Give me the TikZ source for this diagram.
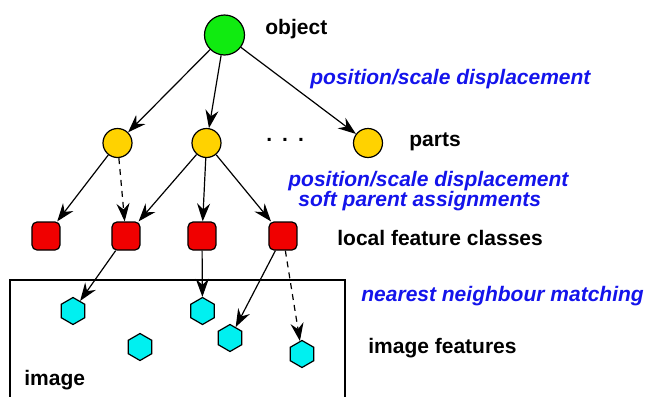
\documentclass[tikz,border=0pt]{standalone}
\usepackage{fontspec}
\setmainfont{Liberation Sans}
\usetikzlibrary{arrows.meta}
\usetikzlibrary{shapes.geometric}

\definecolor{objverde}{RGB}{16,235,16}
\definecolor{partoro}{RGB}{255,210,0}
\definecolor{clsrojo}{RGB}{240,0,0}
\definecolor{featcian}{RGB}{0,240,240}
\definecolor{txtazul}{RGB}{20,20,235}

\begin{document}
\begin{tikzpicture}[x=0.5pt, y=-0.5pt,
    flecha/.style={-{Stealth[length=9pt, width=6.5pt, inset=3pt]}, line width=0.6pt},
    discont/.style={flecha, dash pattern=on 3pt off 2.5pt},
    objnodo/.style={circle, draw, line width=0.6pt, fill=objverde, minimum size=20pt, inner sep=0pt},
    partnodo/.style={circle, draw, line width=0.6pt, fill=partoro, minimum size=14.5pt, inner sep=0pt},
    clsnodo/.style={rectangle, rounded corners=2.5pt, draw, line width=0.6pt, fill=clsrojo, minimum size=14pt, inner sep=0pt},
    featnodo/.style={regular polygon, regular polygon sides=6, shape border rotate=30, draw, line width=0.6pt, fill=featcian, minimum size=13.5pt, inner sep=0pt},
    etiq/.style={anchor=west, inner sep=0pt, font=\fontsize{10.5}{12}\selectfont\bfseries},
    azul/.style={etiq, text=txtazul, font=\fontsize{10.5}{12}\selectfont\bfseries\itshape}]

    \useasboundingbox (0,0) rectangle (645,397);

    % Imagen
    \draw[line width=0.6pt] (10,400) -- (10,280) -- (345,280) -- (345,400);

    % Objeto y partes
    \node[objnodo] (obj) at (224.5,35) {};
    \node[partnodo] (p1) at (117.5,143) {};
    \node[partnodo] (p2) at (206.5,143) {};
    \node[partnodo] (p3) at (368,143) {};

    % Clases de rasgos locales
    \node[clsnodo] (c1) at (46,236) {};
    \node[clsnodo] (c2) at (126,236) {};
    \node[clsnodo] (c3) at (202,236) {};
    \node[clsnodo] (c4) at (283,236) {};

    % Rasgos de la imagen
    \node[featnodo] (h1) at (73,311) {};
    \node[featnodo] (h2) at (202.5,311) {};
    \node[featnodo] (h3) at (140,347) {};
    \node[featnodo] (h4) at (230,338) {};
    \node[featnodo] (h5) at (302,354) {};

    % Flechas
    \draw[flecha] (obj) -- (p1);
    \draw[flecha] (obj) -- (p2);
    \draw[flecha] (obj) -- (p3);
    \draw[flecha] (p1) -- (c1);
    \draw[discont] (p1) -- (c2);
    \draw[flecha] (p2) -- (c2);
    \draw[flecha] (p2) -- (c3);
    \draw[flecha] (p2) -- (c4);
    \draw[flecha] (c2) -- (h1);
    \draw[flecha] (c3) -- (h2);
    \draw[flecha] (c4) -- (h4);
    \draw[discont] (c4) -- (h5);

    % Textos
    \node[etiq] (tobj) at (265,29) {object};
    \node[etiq] (tdots) at (266,140) {.\hspace{5pt}.\hspace{5pt}.};
    \node[etiq] (tparts) at (409,142) {parts};
    \node[etiq] (tcls) at (337,238) {local feature classes};
    \node[etiq] (tfeat) at (368,348) {image features};
    \node[etiq] (timg) at (24,380) {image};
    \node[azul] (tdesp1) at (310,79) {position/scale displacement};
    \node[azul] (tdesp2) at (288,181) {position/scale displacement};
    \node[azul] (tsoft) at (298,201) {soft parent assignments};
    \node[azul] (tnn) at (361,296) {nearest neighbour matching};

\end{tikzpicture}
\end{document}
